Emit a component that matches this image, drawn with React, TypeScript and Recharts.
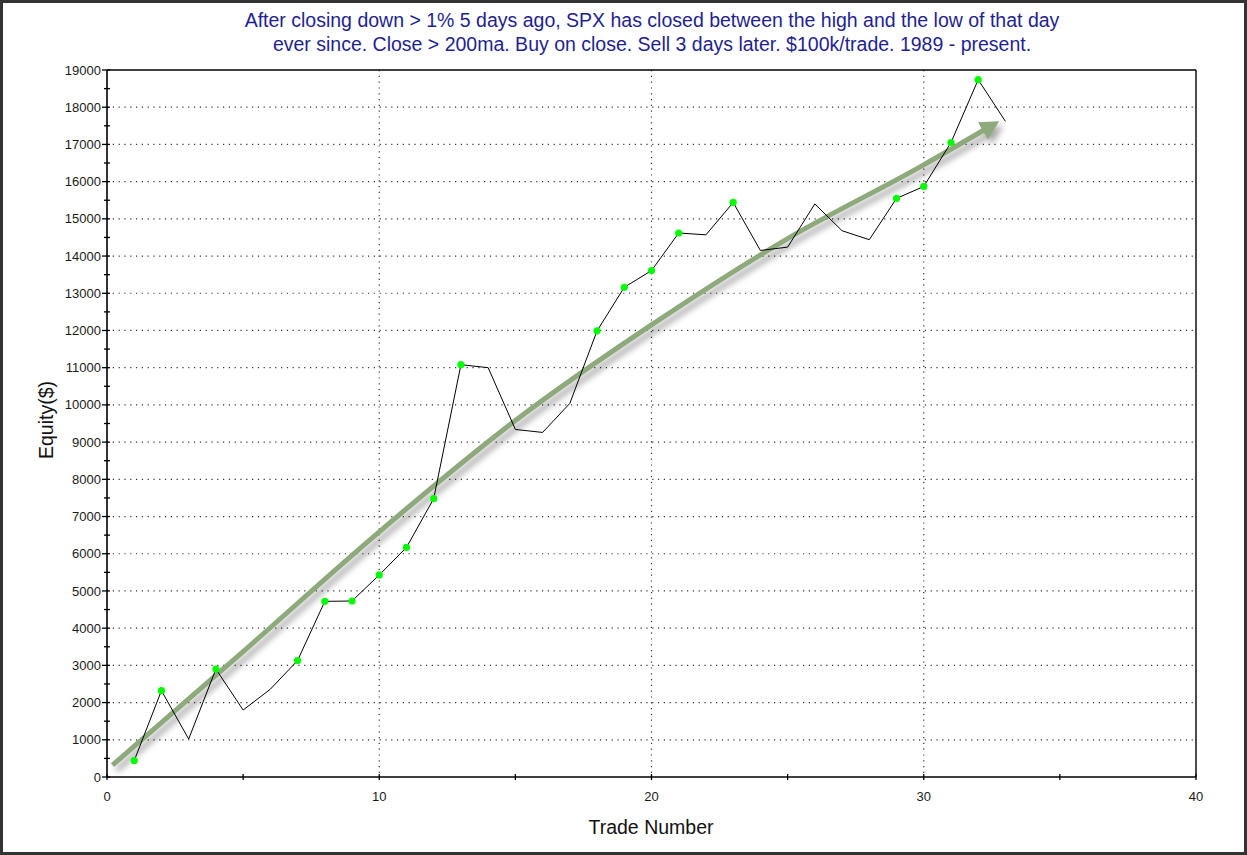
import React from "react";
import {
  LineChart,
  Line,
  XAxis,
  YAxis,
  CartesianGrid,
  ReferenceLine,
} from "recharts";

// ---- data ----
const trades = [
  1, 2, 3, 4, 5, 6, 7, 8, 9, 10, 11, 12, 13, 14, 15, 16, 17, 18, 19, 20, 21,
  22, 23, 24, 25, 26, 27, 28, 29, 30, 31, 32, 33,
];
const equity = [
  440, 2320, 1020, 2900, 1800, 2360, 3130, 4720, 4730, 5430, 6170, 7480, 11080,
  11000, 9340, 9260, 10040, 11990, 13160, 13610, 14620, 14570, 15440, 14150,
  14240, 15400, 14680, 14440, 15550, 15870, 17050, 18740, 17620,
];
const trendX = [0.2, 5, 10, 15, 20, 25, 30, 32.2];
const trendY = [320, 3370, 6590, 9580, 12150, 14470, 16450, 17380];

const yMajorTicks = [
  0, 1000, 2000, 3000, 4000, 5000, 6000, 7000, 8000, 9000, 10000, 11000, 12000,
  13000, 14000, 15000, 16000, 17000, 18000, 19000,
];
const yMinorTicks = [
  500, 1500, 2500, 3500, 4500, 5500, 6500, 7500, 8500, 9500, 10500, 11500,
  12500, 13500, 14500, 15500, 16500, 17500, 18500,
];
const xMajorTicks = [0, 10, 20, 30, 40];
const xMinorTicks = [5, 15, 25, 35];

const titleLines = [
  "After closing down > 1% 5 days ago, SPX has closed between the high and the low of that day",
  "ever since. Close > 200ma. Buy on close. Sell 3 days later. $100k/trade. 1989 - present.",
];
const xLabel = "Trade Number";
const yLabel = "Equity($)";

// ---- derived tables ----
const equityData = trades.map((t, i) => ({ x: t, equity: equity[i] }));
const trendData = trendX.map((t, i) => ({ x: t, trend: trendY[i] }));
const newHigh: boolean[] = [];
{
  let best = 0;
  equity.forEach((v) => {
    newHigh.push(v > best);
    if (v > best) best = v;
  });
}
const yTicks = [...yMajorTicks, ...yMinorTicks].sort((a, b) => a - b);
const xTicks = [...xMajorTicks, ...xMinorTicks].sort((a, b) => a - b);

const FONT = "Arial, 'Liberation Sans', sans-serif";
const TREND_COLOR = "#8ea97c";

const YTick = (props: any) => {
  const { x, y, payload } = props;
  const major = yMajorTicks.includes(payload.value);
  return (
    <g>
      <line
        x1={major ? x - 5 : x - 3}
        x2={x + 3}
        y1={y}
        y2={y}
        stroke="#000"
        strokeWidth={1.3}
      />
      {major && (
        <text
          x={x - 6}
          y={y}
          dy={4.6}
          textAnchor="end"
          fontSize={13}
          fontFamily={FONT}
          fill="#1a1a1a"
        >
          {payload.value}
        </text>
      )}
    </g>
  );
};

const XTick = (props: any) => {
  const { x, y, payload } = props;
  const major = xMajorTicks.includes(payload.value);
  return (
    <g>
      <line x1={x} x2={x} y1={y - 3} y2={y + 3} stroke="#000" strokeWidth={1.3} />
      {major && (
        <text
          x={x}
          y={y}
          dy={23.5}
          textAnchor="middle"
          fontSize={13}
          fontFamily={FONT}
          fill="#1a1a1a"
        >
          {payload.value}
        </text>
      )}
    </g>
  );
};

const EquityDot = (props: any) => {
  const { cx, cy, index } = props;
  if (!newHigh[index]) return <g key={`d${index}`} />;
  return <circle key={`d${index}`} cx={cx} cy={cy} r={3.6} fill="#00ff00" stroke="none" />;
};

export default function App() {
  return (
    <div
      style={{
        position: "relative",
        width: 1247,
        height: 855,
        background: "#fff",
        fontFamily: FONT,
      }}
    >
      <style>{`body{margin:0;} .trend-line{filter:drop-shadow(4px 5px 3px rgba(0,0,0,0.35));}`}</style>
      <svg width={0} height={0} style={{ position: "absolute" }}>
        <defs>
          <marker
            id="trendArrow"
            markerUnits="userSpaceOnUse"
            markerWidth={24}
            markerHeight={24}
            refX={1}
            refY={10}
            orient="auto"
          >
            <path d="M0,0 L19,10 L0,20 z" fill={TREND_COLOR} />
          </marker>
        </defs>
      </svg>
      <LineChart
        width={1247}
        height={855}
        margin={{ top: 70, right: 51, bottom: 48, left: 47 }}
      >
        <CartesianGrid
          stroke="#333"
          strokeWidth={1.2}
          strokeDasharray="1.2 4.6"
          horizontalValues={yMajorTicks.filter((v) => v > 0 && v < 19000)}
          verticalValues={xMajorTicks.filter((v) => v > 0 && v < 40)}
        />
        <XAxis
          type="number"
          dataKey="x"
          domain={[0, 40]}
          ticks={xTicks}
          interval={0}
          allowDataOverflow
          height={30}
          tickSize={0}
          tickMargin={0}
          tick={<XTick />}
          axisLine={{ stroke: "#000", strokeWidth: 1.6 }}
          tickLine={false}
        />
        <YAxis
          type="number"
          domain={[0, 19000]}
          ticks={yTicks}
          interval={0}
          width={60}
          tickSize={0}
          tickMargin={0}
          tick={<YTick />}
          axisLine={{ stroke: "#000", strokeWidth: 1.6 }}
          tickLine={false}
        />
        <ReferenceLine y={19000} stroke="#000" strokeWidth={1.4} />
        <ReferenceLine x={40} stroke="#000" strokeWidth={1.4} />
        <Line
          data={trendData}
          dataKey="trend"
          type="monotone"
          className="trend-line"
          stroke={TREND_COLOR}
          strokeWidth={5}
          dot={false}
          activeDot={false}
          markerEnd="url(#trendArrow)"
          isAnimationActive={false}
        />
        <Line
          data={equityData}
          dataKey="equity"
          type="linear"
          stroke="#000"
          strokeWidth={1}
          dot={<EquityDot />}
          activeDot={false}
          isAnimationActive={false}
        />
      </LineChart>
      <div
        style={{
          position: "absolute",
          left: 0,
          width: 1304,
          top: 8,
          textAlign: "center",
          color: "#1f1f8f",
          fontSize: 19.5,
          lineHeight: "24px",
          whiteSpace: "nowrap",
        }}
      >
        {titleLines.map((l) => (
          <div key={l}>{l}</div>
        ))}
      </div>
      <div
        style={{
          position: "absolute",
          left: 551,
          width: 200,
          top: 815,
          textAlign: "center",
          color: "#111",
          fontSize: 19.5,
          lineHeight: "24px",
        }}
      >
        {xLabel}
      </div>
      <div
        style={{
          position: "absolute",
          left: 46 - 100,
          width: 200,
          top: 420 - 12,
          textAlign: "center",
          color: "#111",
          fontSize: 19.5,
          lineHeight: "24px",
          transform: "rotate(-90deg)",
        }}
      >
        {yLabel}
      </div>
      <div
        style={{
          position: "absolute",
          inset: 0,
          border: "3px solid #333",
          pointerEvents: "none",
        }}
      />
    </div>
  );
}
